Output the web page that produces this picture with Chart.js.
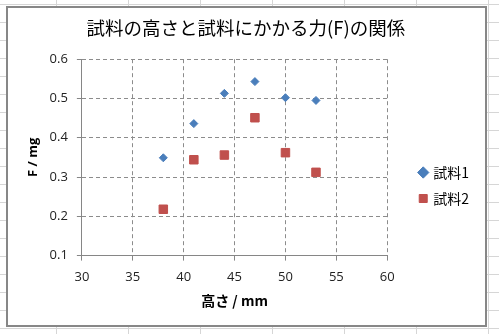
<!DOCTYPE html>
<html>
<head>
<meta charset="utf-8">
<script src="https://cdn.jsdelivr.net/npm/chart.js@4"></script>
<style>
  html, body { margin:0; padding:0; }
  body {
    width:499px; height:334px; overflow:hidden; position:relative;
    background-color:#fff;
    background-image: linear-gradient(to right, #d6d6d6 1px, transparent 1px), linear-gradient(to bottom, #d6d6d6 1px, transparent 1px);
    background-size: 72px 18px;
    background-position: 56px 4px;
  }
  #box { position:absolute; left:6px; top:6px; width:481px; height:321px; box-sizing:border-box; border:2px solid #878787; background:#fff; }
  #c { position:absolute; left:0; top:0; }
</style>
</head>
<body>
<div id="box"></div>
<canvas id="c" width="499" height="334"></canvas>
<script>
// 試料の高さと力の関係
const heights = [38, 41, 44, 47, 50, 53];
const sample1 = [0.349, 0.436, 0.513, 0.543, 0.502, 0.495];
const sample2 = [0.218, 0.344, 0.356, 0.451, 0.362, 0.312];
const seriesNames = ['試料1', '試料2'];
const xTicks = [30, 35, 40, 45, 50, 55, 60];
const yTicks = [0.1, 0.2, 0.3, 0.4, 0.5, 0.6];

const JP = '"Noto Sans CJK JP", "Noto Sans", sans-serif';
const NUM = '"Open Sans", Lato, sans-serif';

function pts(ys){ return heights.map((x,i)=>({x:x, y:ys[i]})); }

const gridOpts = { color:'#8c8c8c', tickBorderDash:[], tickColor:'#868686', tickLength:5, lineWidth:1 };
const borderOpts = { display:true, color:'#868686', width:1, dash:[4,3] };

new Chart(document.getElementById('c'), {
  type:'scatter',
  data:{
    datasets:[
      {label:seriesNames[0], data:pts(sample1), yAxisID:'y', pointStyle:'rectRot', pointRadius:4, backgroundColor:'#4a7ebb', borderColor:'#4a7ebb', borderWidth:1},
      {label:seriesNames[1], data:pts(sample2), yAxisID:'y', pointStyle:'rect', pointRadius:6, backgroundColor:'#c0504d', borderColor:'#c0504d', borderWidth:1}
    ]
  },
  options:{
    responsive:false, animation:false, devicePixelRatio:1,
    layout:{ padding:{ left:25, right:20, top:10, bottom:25 } },
    plugins:{
      title:{ display:true, text:'試料の高さと試料にかかる力(F)の関係   ', color:'#000', font:{family:JP, size:18.5, weight:'normal'}, padding:{top:7, bottom:20} },
      legend:{ position:'right',
        title:{ display:true, text:'', font:{size:10}, padding:{top:40, bottom:0} },
        labels:{ usePointStyle:true, boxWidth:6, boxHeight:8, color:'#000', font:{family:JP, size:14}, padding:12 } },
      tooltip:{ enabled:false }
    },
    scales:{
      x:{
        type:'linear', min:30, max:60,
        afterBuildTicks:s=>{ s.ticks = xTicks.map(v=>({value:v})); },
        grid:gridOpts, border:borderOpts,
        ticks:{ color:'#222', font:{family:NUM, size:13}, padding:9 },
        title:{ display:true, text:'高さ / mm', color:'#000', font:{family:JP, size:14, weight:'bold'}, padding:{top:-2, bottom:0} }
      },
      y:{
        min:0.1, max:0.6,
        afterBuildTicks:s=>{ s.ticks = yTicks.map(v=>({value:v})); },
        grid:gridOpts, border:borderOpts,
        ticks:{ color:'#222', font:{family:NUM, size:13}, padding:9, callback:v=>v.toFixed(1) },
        title:{ display:true, text:'F / mg', color:'#000', font:{family:NUM, size:13, weight:'bold'}, padding:{top:0, bottom:0} }
      },
      gap:{
        axis:'y', position:'right', display:true,
        grid:{ display:false }, border:{ display:false }, ticks:{ display:false },
        afterFit:s=>{ s.width = 21; }
      }
    }
  }
});
</script>
</body>
</html>
